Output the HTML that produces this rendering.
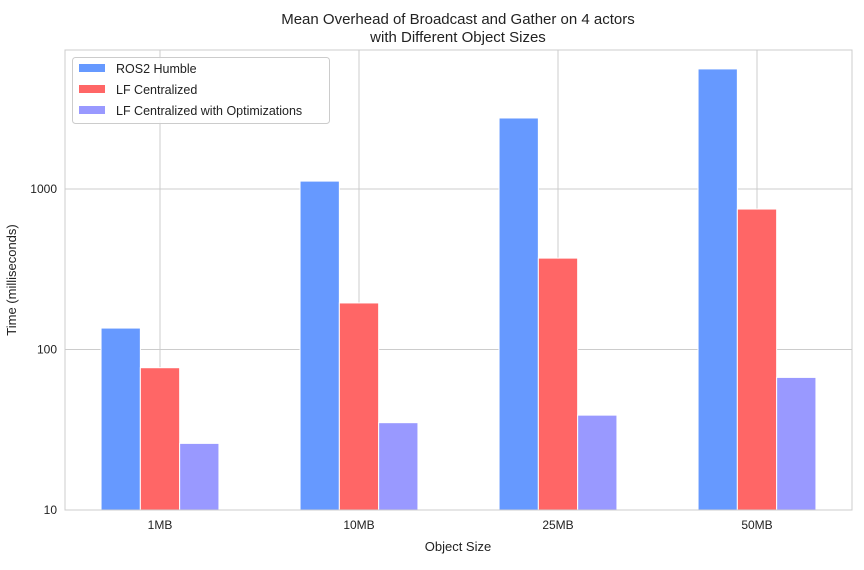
<!DOCTYPE html>
<html><head><meta charset="utf-8"><style>
body{margin:0;background:#fff;font-family:"Liberation Sans",sans-serif}
</style></head><body>
<svg id="c" width="864" height="565" xmlns="http://www.w3.org/2000/svg" font-family="Liberation Sans, sans-serif"></svg>
<script>
const categories=["1MB","10MB","25MB","50MB"];
const ros2=[136,1120,2770,5600];
const lfCentral=[77,195,371,750];
const lfOpt=[26,35,39,67];
const yTicks=[10,100,1000];
const yTickLabels=["10","100","1000"];
const seriesNames=["ROS2 Humble","LF Centralized","LF Centralized with Optimizations"];
const colors=["#6699ff","#ff6666","#9999ff"];
const L=65,R=852,T=50,B=510;
const svg=document.getElementById('c');const NS="http://www.w3.org/2000/svg";
function mk(t,a,p){const e=document.createElementNS(NS,t);for(const k in a)e.setAttribute(k,a[k]);(p||svg).appendChild(e);return e;}
const dec=160.5;
function y(v){return B-(Math.log10(v)-1)*dec;}
const gw=199,bw=39.3;
function xc(i){return 160+i*gw;}
// grid
yTicks.forEach((t,i)=>{const g=mk('line',{x1:L,x2:R,y1:y(t),y2:y(t),stroke:'#cccccc'});

const tx=mk('text',{x:L-8,y:y(t)+4,'text-anchor':'end','font-size':12,fill:'#222'});tx.textContent=yTickLabels[i];
});
categories.forEach((c,i)=>{const g=mk('line',{x1:xc(i),x2:xc(i),y1:T,y2:B,stroke:'#cccccc'});

const tx=mk('text',{x:xc(i),y:B+19,'text-anchor':'middle','font-size':12,fill:'#222'});tx.textContent=c;
});
[ros2,lfCentral,lfOpt].forEach((s,si)=>{s.forEach((v,i)=>{const x=xc(i)+(si-1.5)*bw;
const r=mk('rect',{x:x,y:y(v),width:bw,height:B-y(v),fill:colors[si],stroke:'#fff','stroke-width':1});
});});
const fr=mk('rect',{x:L,y:T,width:R-L,height:B-T,fill:'none',stroke:'#cccccc'});

const t1=mk('text',{x:458,y:24,'text-anchor':'middle','font-size':15,fill:'#222'});t1.textContent="Mean Overhead of Broadcast and Gather on 4 actors";

const t2=mk('text',{x:458,y:42,'text-anchor':'middle','font-size':15,fill:'#222'});t2.textContent="with Different Object Sizes";

const xl=mk('text',{x:458,y:551,'text-anchor':'middle','font-size':13,fill:'#222'});xl.textContent="Object Size";

const yl=mk('text',{x:16,y:280,'text-anchor':'middle','font-size':13,fill:'#222',transform:'rotate(-90 16 280)'});yl.textContent="Time (milliseconds)";

const lg=mk('g',{});
mk('rect',{x:72.5,y:57.5,width:257,height:66,rx:3,fill:'#fff','fill-opacity':0.85,stroke:'#cccccc'},lg);
seriesNames.forEach((n,i)=>{const r=mk('rect',{x:79,y:64+i*21,width:26,height:8,fill:colors[i]},lg);

const t=mk('text',{x:116,y:73+i*21,'font-size':12.5,fill:'#222'},lg);t.textContent=n;
});
</script>
</body></html>
